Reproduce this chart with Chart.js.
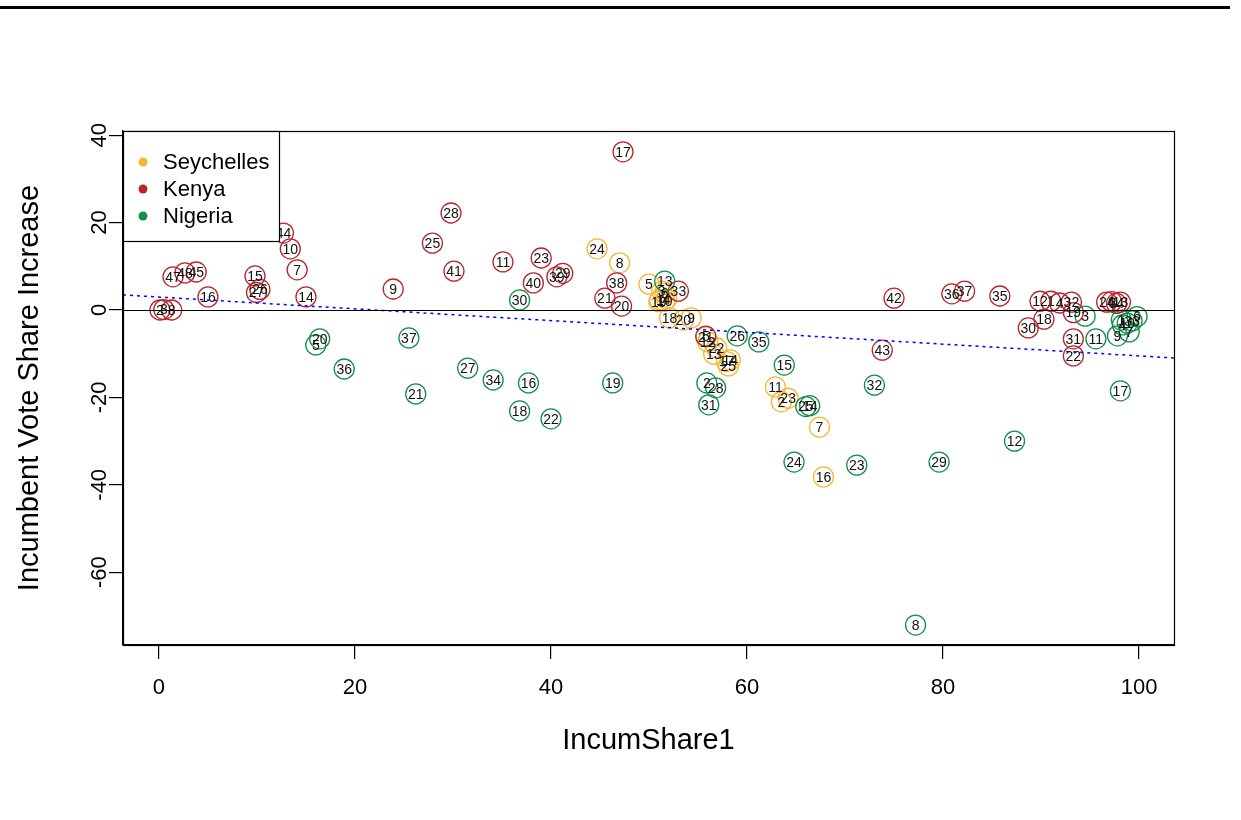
<!DOCTYPE html>
<html><head><meta charset="utf-8">
<script src="https://cdn.jsdelivr.net/npm/chart.js@4.4.0/dist/chart.umd.min.js"></script>
<style>html,body{margin:0;padding:0;background:#fff;} #wrap{width:1241px;height:820px;}</style>
</head><body><div id="wrap"><canvas id="c" width="1241" height="820"></canvas></div>
<script>
// ---- data ----
const seyLabels = ['24','8','5','3','6','4','1','10','19','18','20','9','21','12','22','13','14','17','25','11','2','23','7','16'];
const seyX = [44.7,47.0,50.0,51.3,51.6,51.8,51.1,51.6,51.0,52.1,53.5,54.3,55.8,56.0,56.9,56.6,58.3,57.9,58.1,62.9,63.5,64.2,67.4,67.8];
const seyY = [14.0,10.8,5.9,4.3,3.9,2.5,2.3,2.0,1.9,-1.8,-2.3,-1.8,-6.2,-7.3,-8.7,-10.1,-11.4,-11.8,-12.8,-17.6,-21.0,-20.2,-26.8,-38.2];

const kenLabels = ['17','28','25','41','11','23','40','39','29','9','38','21','20','33','44','10','7','15','27','26','14','16','47','48','45','2','3','8','42','36','37','35','43','30','18','12','1','4','32','19','31','22','24','6','34','13','5'];
const kenX = [47.35,29.8,27.9,30.1,35.1,39.0,38.2,40.6,41.2,23.9,46.7,45.5,47.2,53.0,12.7,13.4,14.1,9.8,9.95,10.3,15.0,5.0,1.43,2.65,3.8,0.1,0.5,1.3,75.0,80.9,82.2,85.8,73.8,88.7,90.3,89.9,91.0,91.9,93.1,93.3,93.3,93.3,96.7,97.2,97.7,98.1,55.8];
const kenY = [36.2,22.2,15.3,8.9,11.0,11.9,6.2,7.6,8.4,4.8,6.2,2.7,0.9,4.3,17.6,14.0,9.2,7.8,4.0,4.7,3.0,3.0,7.6,8.5,8.7,0.0,0.1,0.0,2.7,3.7,4.3,3.2,-9.2,-4.1,-2.1,2.0,2.0,1.6,1.8,-0.6,-6.6,-10.5,1.8,1.9,1.5,1.8,-6.0];

const nigLabels = ['13','30','20','5','36','37','21','27','34','16','18','22','19','2','28','31','26','35','15','25','14','24','23','32','29','8','12','3','11','17','9','7','6','1','10','4','33'];
const nigX = [51.6,36.8,16.4,16.0,18.9,25.5,26.2,31.5,34.1,37.7,36.8,40.0,46.3,55.9,56.8,56.1,59.0,61.2,63.8,66.0,66.4,64.8,71.2,73.0,79.6,77.2,87.3,94.5,95.6,98.1,97.8,99.0,99.8,98.2,98.8,98.3,99.3];
const nigY = [6.6,2.3,-6.6,-8.0,-13.5,-6.4,-19.2,-13.3,-16.0,-16.7,-23.1,-24.9,-16.7,-16.7,-17.8,-21.7,-5.9,-7.3,-12.6,-22.1,-21.9,-34.8,-35.5,-17.2,-34.8,-72.1,-30.0,-1.4,-6.6,-18.5,-5.9,-5.0,-1.5,-2.3,-3.0,-3.4,-2.5];

const fitX = [-3.67, 103.57];
const fitY = [3.45, -10.98];

const xTickValues = [0,20,40,60,80,100];
const yTickValues = [-60,-40,-20,0,20,40];
const countries = ['Seychelles','Kenya','Nigeria'];

// ---- styles ----
const COLORS = {Seychelles:'#F7B733', Kenya:'#B8262C', Nigeria:'#12904A'};
const FONT = '"Liberation Sans", Arial, sans-serif';

function pts(xs, ys){ return xs.map((x,i)=>({x:x, y:ys[i]})); }

const deco = {
  id:'rdeco',
  afterDatasetsDraw(chart){
    const ctx = chart.ctx, a = chart.chartArea;
    const xs = chart.scales.x, ys = chart.scales.y;
    ctx.save();
    // zero line
    ctx.strokeStyle = '#000'; ctx.lineWidth = 1.2;
    const y0 = Math.round(ys.getPixelForValue(0)) + 0.5;
    ctx.beginPath(); ctx.moveTo(a.left, y0); ctx.lineTo(a.right, y0); ctx.stroke();
    // point labels
    ctx.fillStyle = '#111';
    ctx.font = '14px ' + FONT;
    ctx.textAlign = 'center'; ctx.textBaseline = 'middle';
    [[seyLabels,seyX,seyY],[kenLabels,kenX,kenY],[nigLabels,nigX,nigY]].forEach(([L,X,Y])=>{
      L.forEach((t,i)=>{
        ctx.fillText(t, xs.getPixelForValue(X[i]), ys.getPixelForValue(Y[i]) + 1);
      });
    });
    // box
    ctx.strokeStyle = '#000'; ctx.lineWidth = 1.2;
    ctx.strokeRect(a.left + 0.5, a.top + 0.5, a.right - a.left, a.bottom - a.top);
    // legend
    const lx = a.left + 0.5, ly = a.top + 0.5, lw = 156, lh = 110;
    ctx.fillStyle = '#fff'; ctx.fillRect(lx, ly, lw, lh);
    ctx.strokeRect(lx, ly, lw, lh);
    ctx.font = '22px ' + FONT; ctx.textAlign = 'left'; ctx.textBaseline = 'middle';
    countries.forEach((c,i)=>{
      const yy = a.top + 31 + i*27;
      ctx.fillStyle = COLORS[c];
      ctx.beginPath(); ctx.arc(a.left + 20, yy, 4.5, 0, Math.PI*2); ctx.fill();
      ctx.fillStyle = '#000';
      ctx.fillText(c, a.left + 40, yy + 1);
    });
    // tick labels
    ctx.fillStyle = '#000';
    ctx.font = '22px ' + FONT; ctx.textAlign = 'center'; ctx.textBaseline = 'middle';
    xTickValues.forEach(v=>{ ctx.fillText(String(v), xs.getPixelForValue(v), 688); });
    yTickValues.forEach(v=>{
      ctx.save(); ctx.translate(100, ys.getPixelForValue(v)); ctx.rotate(-Math.PI/2);
      ctx.fillText(String(v), 0, 0); ctx.restore();
    });
    // axis titles
    ctx.font = '29px ' + FONT;
    ctx.fillText('IncumShare1', (a.left + a.right)/2, 741);
    ctx.save(); ctx.translate(30, (a.top + a.bottom)/2); ctx.rotate(-Math.PI/2);
    ctx.fillText('Incumbent Vote Share Increase', 0, 0); ctx.restore();
    // top rule
    ctx.fillStyle = '#000'; ctx.fillRect(0, 6, 1230, 3);
    ctx.restore();
  }
};

function ds(label, L, X, Y, order){
  return {type:'scatter', label:label, data:pts(X,Y), order:order,
    pointStyle:'circle', pointRadius:10, pointHoverRadius:10, pointBorderWidth:1.3,
    borderColor:COLORS[label], backgroundColor:'rgba(0,0,0,0)', showLine:false};
}

new Chart(document.getElementById('c'), {
  type:'scatter',
  data:{datasets:[
    ds('Seychelles', seyLabels, seyX, seyY, 3),
    ds('Kenya', kenLabels, kenX, kenY, 2),
    ds('Nigeria', nigLabels, nigX, nigY, 1),
    {type:'line', label:'fit', data:pts(fitX, fitY), order:0, borderColor:'#0000FF', borderWidth:1.5,
     borderDash:[3,4], pointRadius:0, fill:false, showLine:true}
  ]},
  options:{
    responsive:false, animation:false, events:[],
    layout:{padding:{top:131, right:67, left:0, bottom:0}},
    plugins:{legend:{display:false}, tooltip:{enabled:false}},
    scales:{
      x:{type:'linear', min:-3.67, max:103.57, position:'bottom',
        afterBuildTicks(s){ s.ticks = xTickValues.map(v=>({value:v})); },
        afterFit(s){ s.height = 820 - 645; },
        ticks:{display:false},
        grid:{display:true, drawOnChartArea:false, drawTicks:true, tickLength:14, color:'#000', lineWidth:1.2},
        border:{display:true, color:'#000', width:1.2}},
      y:{type:'linear', min:-76.66, max:40.96, position:'left',
        afterBuildTicks(s){ s.ticks = yTickValues.map(v=>({value:v})); },
        afterFit(s){ s.width = 123; },
        ticks:{display:false},
        grid:{display:true, drawOnChartArea:false, drawTicks:true, tickLength:14, color:'#000', lineWidth:1.2},
        border:{display:true, color:'#000', width:1.2}}
    }
  },
  plugins:[deco]
});
</script></body></html>
